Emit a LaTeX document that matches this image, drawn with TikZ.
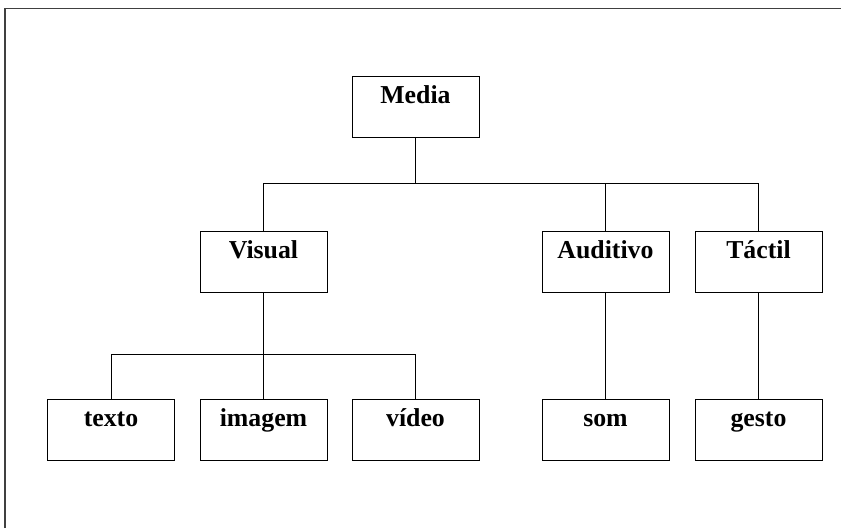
\documentclass[tikz,border=0pt]{standalone}
\usepackage{fontspec}
\setmainfont{Liberation Serif}
\begin{document}
\begin{tikzpicture}[x=1pt,y=-1pt,
  box/.style={draw, line width=1pt, rectangle, inner sep=0pt,
    minimum width=127pt, minimum height=61pt,
    text height=27pt, text depth=34pt,
    font=\fontsize{25.8}{30}\selectfont\bfseries},
  link/.style={line width=1pt}]
  \useasboundingbox (0,0) rectangle (841,528);
  % page frame (top and left edges)
  \draw[line width=1.6pt, black!75] (5,528) -- (5,8.5) -- (841,8.5);

  % tree nodes
  \node[box] (media)    at (415.5,107)   {Media};
  \node[box] (visual)   at (263.5,261.5) {Visual};
  \node[box] (auditivo) at (605.5,261.5) {Auditivo};
  \node[box] (tactil)   at (758.5,261.5) {Táctil};
  \node[box] (texto)    at (111,429.5)   {texto};
  \node[box] (imagem)   at (263.5,429.5) {imagem};
  \node[box] (video)    at (415.5,429.5) {vídeo};
  \node[box] (som)      at (605.5,429.5) {som};
  \node[box] (gesto)    at (758.5,429.5) {gesto};

  % junction points of the branch bars
  \coordinate (j1) at (415.5,183.5);
  \coordinate (j2) at (263.5,354.5);

  % first level
  \draw[link] (media.south) -- (j1);
  \draw[link] (visual.north) |- (j1) -| (tactil.north);
  \draw[link] (auditivo.north) -- (auditivo.north |- j1);
  % second level
  \draw[link] (visual.south) -- (imagem.north);
  \draw[link] (texto.north) |- (j2) -| (video.north);
  \draw[link] (auditivo.south) -- (som.north);
  \draw[link] (tactil.south) -- (gesto.north);
\end{tikzpicture}
\end{document}
